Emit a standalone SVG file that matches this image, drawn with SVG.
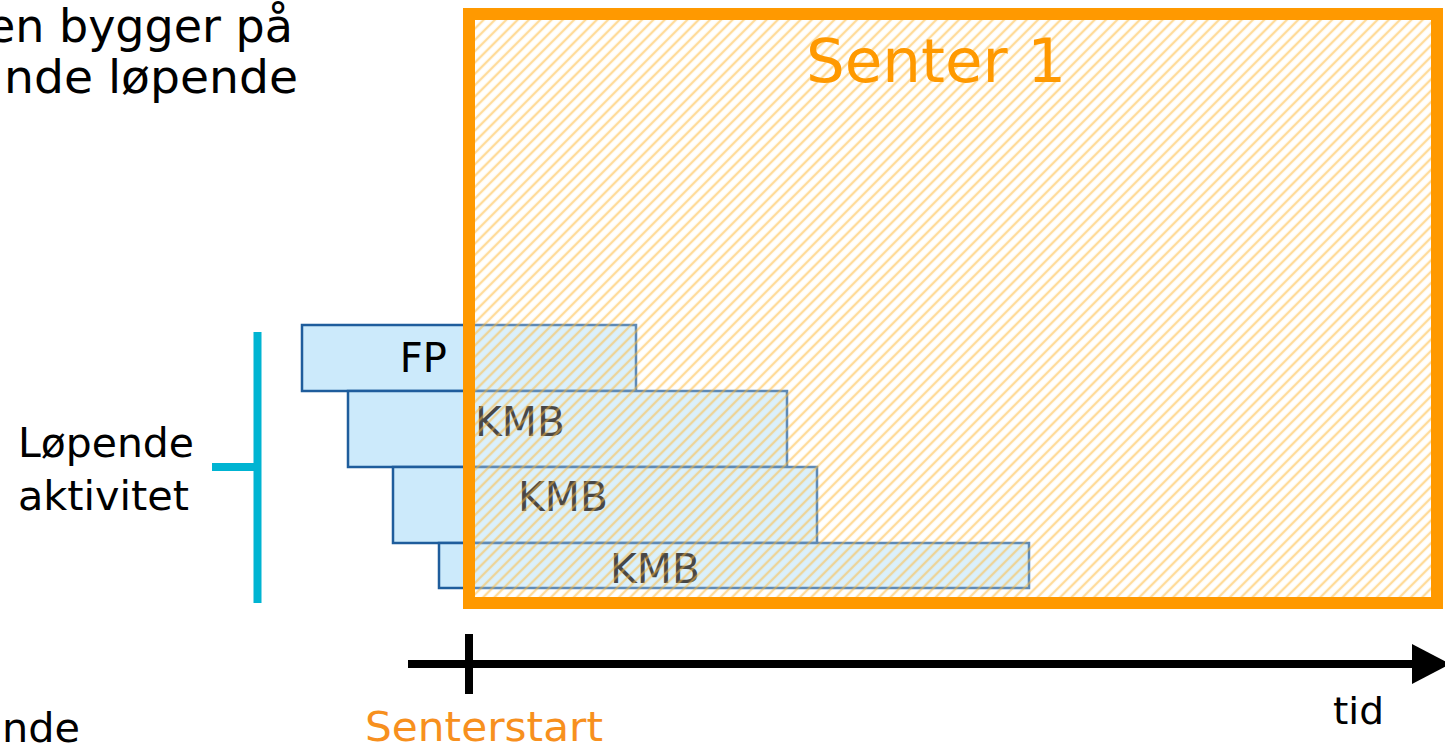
<svg xmlns="http://www.w3.org/2000/svg" width="1445" height="750" viewBox="0 0 1445 750">
<style>
  .t { font-family: "DejaVu Sans", Verdana, sans-serif; fill: #000; }
  .bar { fill: #cceafb; stroke: #1f5d9c; stroke-width: 2.5; }
  .lbl { font-family: "DejaVu Sans", Verdana, sans-serif; font-size: 40px; fill: #000; }
  .kmb { fill: #000; }
  .cyan { stroke: #00b4d2; stroke-width: 8; fill: none; }
  .ax { stroke: #000; stroke-width: 8; fill: none; }
</style>
<defs>
  <pattern id="hatch" patternUnits="userSpaceOnUse" width="8" height="8" patternTransform="rotate(45)">
    <line x1="4" y1="-1" x2="4" y2="9" stroke="#ffb733" stroke-opacity="0.5" stroke-width="2.4"/>
  </pattern>
</defs>
<rect width="1445" height="750" fill="#fff"/>

<g id="intro-text">
  <text class="t" x="293" y="42" font-size="46" text-anchor="end">en bygger på</text>
  <text class="t" x="4" y="93" font-size="46" textLength="294" lengthAdjust="spacingAndGlyphs">nde løpende</text>
  <text class="t" x="2" y="742" font-size="41" textLength="78" lengthAdjust="spacingAndGlyphs">nde</text>
</g>

<g id="bar-fp">
  <rect class="bar" x="302" y="325" width="334" height="66"/>
  <text class="lbl" x="447" y="372" text-anchor="end" font-size="41">FP</text>
</g>
<g id="bar-kmb1">
  <rect class="bar" x="348" y="391" width="439" height="76"/>
  <text class="lbl kmb" x="475" y="436" textLength="90" lengthAdjust="spacingAndGlyphs">KMB</text>
</g>
<g id="bar-kmb2">
  <rect class="bar" x="393" y="467" width="424" height="76"/>
  <text class="lbl kmb" x="518" y="511" textLength="90" lengthAdjust="spacingAndGlyphs">KMB</text>
</g>
<g id="bar-kmb3">
  <rect class="bar" x="439" y="543" width="590" height="45"/>
  <text class="lbl kmb" x="610" y="583" textLength="90" lengthAdjust="spacingAndGlyphs">KMB</text>
</g>

<g id="senter1">
  <rect x="469" y="14" width="968" height="589" fill="#fff" fill-opacity="0.28"/>
  <rect x="469" y="14" width="968" height="589" fill="url(#hatch)"/>
  <rect x="469" y="14" width="968" height="589" fill="none" stroke="#ff9900" stroke-width="12"/>
  <text x="806" y="82" font-family="DejaVu Sans, Verdana, sans-serif" font-size="61" fill="#ff9900" textLength="260" lengthAdjust="spacingAndGlyphs">Senter 1</text>
</g>

<g id="lopende-label">
  <text class="t" x="18" y="457" font-size="40" textLength="176" lengthAdjust="spacingAndGlyphs">Løpende</text>
  <text class="t" x="18" y="510" font-size="40" textLength="171" lengthAdjust="spacingAndGlyphs">aktivitet</text>
</g>

<g id="connectors">
  <line class="cyan" x1="257.5" y1="332" x2="257.5" y2="603"/>
  <line class="cyan" x1="212" y1="467" x2="257.5" y2="467"/>
  <line class="ax" x1="408" y1="664" x2="1414" y2="664"/>
  <line class="ax" x1="469" y1="634" x2="469" y2="694"/>
  <polygon points="1412,644 1450,664 1412,684" fill="#000"/>
</g>

<g id="axis-labels">
  <text x="365" y="741" font-family="DejaVu Sans, Verdana, sans-serif" font-size="40" fill="#f7901e" textLength="238" lengthAdjust="spacingAndGlyphs">Senterstart</text>
  <text class="t" x="1333" y="724" font-size="38" textLength="51" lengthAdjust="spacingAndGlyphs">tid</text>
</g>
</svg>
